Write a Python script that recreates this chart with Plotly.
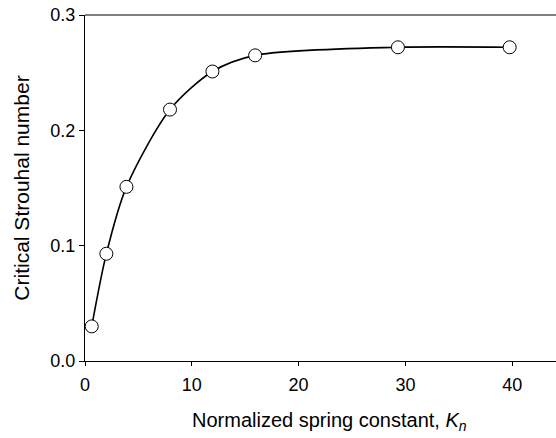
import plotly.graph_objects as go

kn = [0.63, 2.0, 3.88, 7.96, 11.93, 15.93, 29.3, 39.76]
strouhal = [0.030, 0.093, 0.151, 0.218, 0.251, 0.265, 0.272, 0.272]
x_ticks = [0, 10, 20, 30, 40]
y_ticks = [0.0, 0.1, 0.2, 0.3]
y_tick_text = ["0.0", "0.1", "0.2", "0.3"]
x_title = "Normalized spring constant, <i>K<sub>n</sub></i>"
y_title = "Critical Strouhal number"

fig = go.Figure()
fig.add_trace(go.Scatter(
    x=kn, y=strouhal, mode="lines+markers",
    line=dict(color="black", width=1.6, shape="spline", smoothing=0.8),
    marker=dict(size=13, color="white", line=dict(color="black", width=1)),
    cliponaxis=False, showlegend=False,
))

font = "Liberation Sans, Arial, sans-serif"
fig.update_layout(
    width=556, height=438,
    margin=dict(l=85, r=0, t=15, b=77, autoexpand=False),
    paper_bgcolor="white", plot_bgcolor="white",
    font=dict(family=font, size=18, color="black"),
    xaxis=dict(
        range=[0, 44.1], tickvals=x_ticks, ticks="outside", ticklen=4,
        tickwidth=1, tickcolor="black", showline=True, linecolor="black",
        linewidth=1, mirror=False, showgrid=False, zeroline=False,
        automargin=False, tickfont=dict(size=18), ticklabelstandoff=3,
    ),
    yaxis=dict(
        range=[0, 0.3], tickvals=y_ticks, ticktext=y_tick_text, ticks="outside",
        ticklen=5, tickwidth=1, tickcolor="black", showline=True,
        linecolor="black", linewidth=1, showgrid=False, zeroline=False,
        automargin=False, tickfont=dict(size=18),
        title=dict(text=y_title, font=dict(size=21), standoff=15),
    ),
)
fig.add_annotation(
    text=x_title, xref="paper", yref="paper", x=0.519, y=0,
    xanchor="center", yanchor="middle", yshift=-60, showarrow=False,
    font=dict(size=20),
)
fig.add_shape(type="line", xref="paper", yref="paper", x0=0, x1=1, y0=1, y1=1,
              line=dict(color="black", width=1))
fig.write_html(
    "out.html",
    config={"displayModeBar": False},
    post_script="document.body.style.margin='0';document.body.style.overflow='hidden';",
)
